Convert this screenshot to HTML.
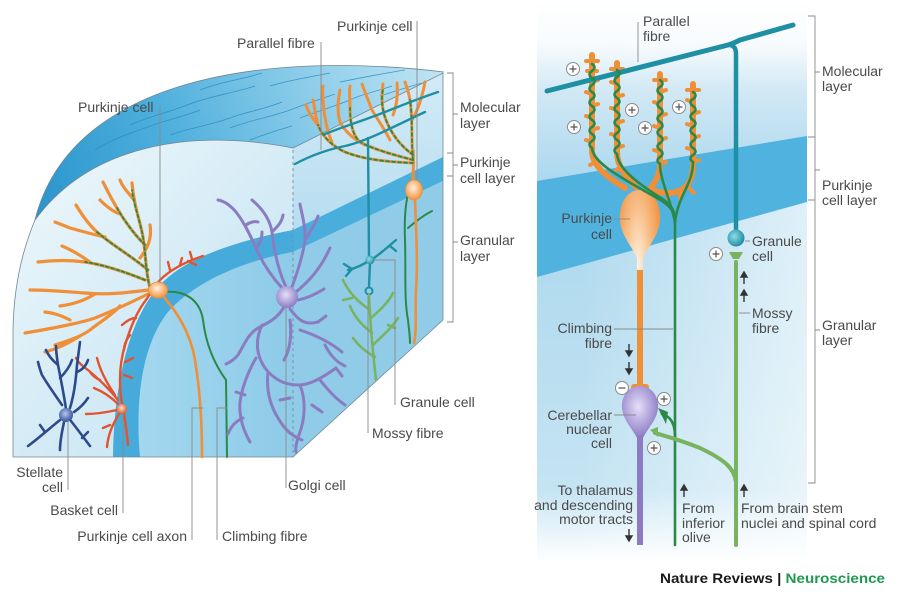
<!DOCTYPE html>
<html><head><meta charset="utf-8">
<style>
html,body{margin:0;padding:0;background:#fff;}
svg{display:block;}
text{font-family:"Liberation Sans",Arial,sans-serif;font-size:14px;fill:#4a4a4a;}
.ld{stroke:#8a8a8a;stroke-width:0.9;fill:none;}
.or{stroke:#ef8f37;fill:none;stroke-linecap:round;stroke-linejoin:round;}
.gr{stroke:#2b8948;fill:none;stroke-linecap:round;}
.pu{stroke:#8a7cc1;stroke-width:3;fill:none;stroke-linecap:round;stroke-linejoin:round;}
.nv{stroke:#2e4a8c;stroke-width:2.6;fill:none;stroke-linecap:round;stroke-linejoin:round;}
.rd{stroke:#e2542f;stroke-width:2.4;fill:none;stroke-linecap:round;stroke-linejoin:round;}
.tl{stroke:#1f8fa3;fill:none;stroke-linecap:round;stroke-linejoin:round;}
.lg{stroke:#7ab35f;fill:none;stroke-linecap:round;stroke-linejoin:round;}
.pl circle{fill:#fff;stroke:#8a8a8a;stroke-width:1;}
.pl path{stroke:#555;stroke-width:1.2;fill:none;}
</style></head><body>
<svg width="900" height="600" viewBox="0 0 900 600" xmlns="http://www.w3.org/2000/svg">
<defs>
<linearGradient id="gFront" gradientUnits="userSpaceOnUse" x1="20" y1="160" x2="290" y2="420">
<stop offset="0" stop-color="#eef7fb"/><stop offset="0.5" stop-color="#d6ecf6"/><stop offset="1" stop-color="#c4e4f2"/></linearGradient>
<linearGradient id="gTop" gradientUnits="userSpaceOnUse" x1="40" y1="220" x2="440" y2="70">
<stop offset="0" stop-color="#2a95cd"/><stop offset="0.35" stop-color="#4eafdc"/><stop offset="0.7" stop-color="#8ecdea"/><stop offset="1" stop-color="#bfe4f3"/></linearGradient>
<linearGradient id="gRightM" gradientUnits="userSpaceOnUse" x1="0" y1="80" x2="0" y2="250">
<stop offset="0" stop-color="#d2eaf6"/><stop offset="1" stop-color="#b3dcef"/></linearGradient>
<linearGradient id="gGranF" gradientUnits="userSpaceOnUse" x1="140" y1="0" x2="293" y2="0">
<stop offset="0" stop-color="#a3d7ee"/><stop offset="1" stop-color="#8dcbe8"/></linearGradient>
<linearGradient id="gRP" gradientUnits="userSpaceOnUse" x1="0" y1="0" x2="0" y2="560">
<stop offset="0" stop-color="#ffffff"/><stop offset="0.08" stop-color="#f7fbfd"/><stop offset="0.16" stop-color="#d2e9f5"/><stop offset="0.32" stop-color="#acd8ee"/><stop offset="0.55" stop-color="#b5dcef"/><stop offset="1" stop-color="#cbe7f4"/></linearGradient>
<linearGradient id="gWh" gradientUnits="userSpaceOnUse" x1="580" y1="0" x2="807" y2="0">
<stop offset="0" stop-color="#fff" stop-opacity="0"/><stop offset="1" stop-color="#fff" stop-opacity="0.6"/></linearGradient>
<linearGradient id="gBot" gradientUnits="userSpaceOnUse" x1="0" y1="490" x2="0" y2="562">
<stop offset="0" stop-color="#fff" stop-opacity="0"/><stop offset="1" stop-color="#fff" stop-opacity="1"/></linearGradient>
<radialGradient id="gOr" cx="0.45" cy="0.4" r="0.6">
<stop offset="0" stop-color="#fff3e4"/><stop offset="0.5" stop-color="#f9c18c"/><stop offset="1" stop-color="#f09444"/></radialGradient>
<radialGradient id="gPu" cx="0.45" cy="0.4" r="0.6">
<stop offset="0" stop-color="#e6e0f7"/><stop offset="0.55" stop-color="#b3a7dd"/><stop offset="1" stop-color="#8b7cc2"/></radialGradient>
<radialGradient id="gNv" cx="0.45" cy="0.4" r="0.6">
<stop offset="0" stop-color="#b8c4ec"/><stop offset="1" stop-color="#34509a"/></radialGradient>
<radialGradient id="gRd" cx="0.45" cy="0.4" r="0.6">
<stop offset="0" stop-color="#ffe0c0"/><stop offset="1" stop-color="#e5572f"/></radialGradient>
<radialGradient id="gTl" cx="0.4" cy="0.4" r="0.65">
<stop offset="0" stop-color="#8fdcea"/><stop offset="1" stop-color="#178a9e"/></radialGradient>
<clipPath id="cTop"><path d="M35,220 C90,145 190,128 293,148 L444,72 C260,50 70,80 35,220 Z"/></clipPath>
</defs>

<!-- ================= LEFT BLOCK ================= -->
<path d="M35,220 C90,145 190,128 293,148 L444,72 C260,50 70,80 35,220 Z" fill="url(#gTop)"/>
<g clip-path="url(#cTop)" stroke="#2a8cc0" stroke-width="0.8" fill="none" opacity="0.85">
<path d="M95,150 C110,140 125,135 145,128 C165,120 180,118 200,110"/>
<path d="M130,125 C150,116 170,112 190,104 C210,96 230,94 255,86"/>
<path d="M170,135 C190,128 210,125 230,118 C245,112 262,110 282,102"/>
<path d="M200,90 C220,82 240,80 262,73"/>
<path d="M230,128 C250,120 268,118 290,110 C305,104 318,100 335,94"/>
<path d="M270,86 C290,80 305,78 330,73"/>
<path d="M300,118 C315,112 330,108 350,100 C362,94 375,92 392,86"/>
<path d="M340,82 C360,78 380,74 405,70"/>
<path d="M320,135 C340,128 360,122 380,114 C395,108 410,104 428,96"/>
<path d="M380,96 C398,90 418,84 440,78"/>
<path d="M70,185 C85,172 100,165 118,158"/>
<path d="M250,140 C265,134 278,130 292,126"/>
</g>
<path d="M293,148 C190,128 90,145 35,220 Q14,270 13,330 L13,457 L293,457 Z" fill="url(#gFront)"/>
<path d="M140,457 C135,400 142,345 168,312 C195,282 240,262 293,252 L293,457 Z" fill="url(#gGranF)"/>
<path d="M113,457 C114,385 128,320 160,285 C183,260 230,242 293,230 L293,252 C240,262 195,282 168,312 C142,345 135,400 140,457 Z" fill="#46abdb"/>
<path d="M293,148 L443,73 L443,320 L293,457 Z" fill="url(#gRightM)"/>
<path d="M293,230 L443,157 L443,181 L293,252 Z" fill="#4aaedc"/>
<path d="M293,252 L443,181 L443,320 L293,457 Z" fill="#90cce8"/>
<g stroke="#6f8795" stroke-width="0.8" fill="none">
<path d="M444,72 C260,50 70,80 35,220"/>
<path d="M293,148 C190,128 90,145 35,220 Q14,270 13,330 L13,457 L293,457 L443,320 L443,73 L293,148"/>
</g>
<path d="M293,150 L293,457" stroke="#7690a0" stroke-width="0.9" stroke-dasharray="3,3"/>

<g class="or" stroke-width="3.2">
<path d="M150,288 C145,270 146,250 142,232 C139,218 134,205 132,183"/>
<path d="M134,200 C128,192 123,188 120,180"/>
<path d="M145,245 C135,235 125,222 117,208 C112,200 108,192 103,182"/>
<path d="M120,214 C114,212 108,208 100,200"/>
<path d="M148,270 C130,255 112,245 97,232 C88,224 82,215 76,205"/>
<path d="M105,237 C95,235 85,232 70,228 C65,226 60,224 55,222"/>
<path d="M145,280 C125,272 105,265 85,262 C70,260 55,260 38,262"/>
<path d="M90,262 C80,255 72,250 62,246"/>
<path d="M148,290 C125,293 105,295 85,293 C70,292 50,290 30,290"/>
<path d="M95,294 C85,300 75,304 60,306"/>
<path d="M150,293 C132,302 115,310 95,318 C80,323 60,327 25,333"/>
<path d="M120,306 C112,315 100,322 90,330 C80,337 70,340 55,345"/>
<path d="M70,320 C62,316 55,313 45,312"/>
<path d="M80,336 C70,342 60,348 45,352"/>
<path d="M140,258 C148,248 152,238 150,225"/>
</g>
<g class="gr" stroke-width="1.8" stroke-dasharray="3,2.5">
<path d="M150,288 C145,270 146,250 142,232 C139,218 134,205 132,190"/>
<path d="M145,245 C135,235 125,222 117,208"/>
<path d="M148,270 C130,255 112,245 97,232"/>
<path d="M145,280 C125,272 105,265 85,262"/>
</g>
<path class="or" stroke-width="2.6" d="M163,296 C175,310 190,330 195,360 C200,390 202,420 202,457"/>
<path class="gr" stroke-width="2" d="M165,292 C185,290 200,300 203,320 C206,345 215,365 226,380 L227,457"/>
<g class="rd">
<path d="M122,404 C118,380 120,360 126,342 C131,326 138,310 146,300 C150,294 154,287 160,280 C170,270 185,262 203,256"/>
<path d="M136,318 C130,318 126,322 122,325"/>
<path d="M130,335 C126,340 124,345 124,350"/>
<path d="M170,270 L168,262"/><path d="M180,265 L182,258"/><path d="M192,259 L190,252"/><path d="M188,261 L196,265"/>
<path d="M125,362 L133,358"/><path d="M124,375 L132,378"/>
<path d="M118,400 C110,390 100,380 88,370 C82,366 78,362 76,358"/>
<path d="M100,380 C95,378 92,375 90,372"/>
<path d="M115,395 C106,382 100,370 97,358"/>
<path d="M118,404 C112,398 104,392 94,388"/>
<path d="M117,410 C108,412 98,414 86,414"/>
<path d="M119,414 C112,425 108,435 107,447"/>
<path d="M124,414 C126,425 127,435 128,445"/>
<path d="M110,425 L103,428"/>
</g>
<circle cx="122" cy="409" r="5" fill="url(#gRd)"/>
<ellipse cx="158" cy="290" rx="9.5" ry="8" fill="url(#gOr)" stroke="#ef8f37" stroke-width="0.8"/>
<g class="nv">
<path d="M66,409 C64,395 61,380 58,365 C57,358 56,352 56,346"/>
<path d="M60,378 C66,372 70,366 72,360"/>
<path d="M58,365 C52,360 48,355 46,350"/>
<path d="M62,405 C55,395 48,385 42,375 C40,370 39,366 38,362"/>
<path d="M70,408 C74,395 76,380 77,365 C78,357 79,350 80,342"/>
<path d="M77,372 C82,370 86,366 88,360"/>
<path d="M74,412 C80,408 84,404 88,398"/>
<path d="M60,420 C50,428 40,437 28,446"/>
<path d="M45,432 L40,425"/>
<path d="M64,422 C62,432 60,440 60,450"/>
<path d="M71,421 C78,430 84,438 90,446"/>
<path d="M82,438 L88,432"/>
</g>
<circle cx="66" cy="415" r="7" fill="url(#gNv)"/>
<g class="pu">
<path d="M283,289 C270,275 262,262 256,248 C250,235 244,222 236,212 C230,205 224,201 218,200"/>
<path d="M246,225 C250,222 255,221 258,222"/>
<path d="M256,248 C260,244 262,238 262,232"/>
<path d="M286,287 C278,270 274,250 272,232 C270,220 264,210 252,200"/>
<path d="M272,232 C278,226 282,222 283,215"/>
<path d="M292,287 C298,270 303,255 305,240 C306,228 302,215 300,204"/>
<path d="M305,240 C310,232 315,225 318,216"/>
<path d="M296,292 C308,282 320,270 330,248"/>
<path d="M298,300 C308,298 316,294 324,289"/>
<path d="M284,307 C278,318 268,323 258,328 C248,334 244,345 238,355 C234,360 230,362 226,364"/>
<path d="M290,309 C297,318 303,326 318,322"/>
<path d="M300,330 C315,335 330,342 342,352"/>
<path d="M262,325 C255,340 256,355 265,368 C272,377 282,385 298,385 C310,385 322,378 336,368"/>
<path d="M256,358 C248,372 242,388 240,402 C239,415 242,428 250,442"/>
<path d="M268,372 C266,390 270,405 278,418 C285,430 292,436 302,440"/>
<path d="M300,385 C306,400 305,418 300,432 C297,440 295,447 296,452"/>
<path d="M320,380 C328,390 335,398 345,405"/>
<path d="M243,418 C236,421 231,426 228,434"/>
<path d="M325,345 C330,355 336,362 345,366"/>
<path d="M290,320 C292,335 290,350 284,360"/>
<path d="M312,405 L322,412"/><path d="M245,395 L236,392"/><path d="M280,400 L290,398"/>
<path d="M318,322 L326,316"/><path d="M336,368 L342,376"/>
</g>
<circle cx="287" cy="297" r="11" fill="url(#gPu)"/>
<path class="gr" stroke-width="2" d="M410,185 C406,200 404,215 405,240 C406,270 404,300 408,320 C409,330 410,336 410,343"/>
<path class="gr" stroke-width="2" d="M408,228 C415,222 424,215 432,211"/>
<path class="or" stroke-width="2.6" d="M415,200 C416,230 418,260 416,290 C415,310 417,330 414,343"/>
<g class="or" stroke-width="3">
<path d="M413,182 C413,170 414,160 413,150"/>
<path d="M413,160 C411,140 413,120 410,100 C409,93 407,88 405,82"/>
<path d="M412,120 C418,110 422,98 425,82"/>
<path d="M413,155 C400,145 392,135 386,120 C382,110 381,98 383,84"/>
<path d="M390,140 C385,130 378,120 372,110 C368,100 365,92 362,84"/>
<path d="M413,160 C395,155 375,150 360,142 C352,135 350,120 350,108 C350,100 349,92 350,86"/>
<path d="M365,145 C355,140 345,132 340,122 C337,112 338,100 340,90"/>
<path d="M413,163 C390,162 365,160 345,152 C330,145 322,135 318,125 C315,115 315,108 313,100"/>
<path d="M332,142 C327,132 324,115 323,100 C323,95 322,90 323,86"/>
<path d="M318,125 C312,118 308,112 306,105"/>
<path d="M397,83 C398,95 397,105 393,115"/>
</g>
<g class="gr" stroke-width="1.8" stroke-dasharray="3,3">
<path d="M413,160 C411,140 413,120 410,100"/>
<path d="M413,155 C400,145 392,135 386,120 C382,110 381,98 383,90"/>
<path d="M413,160 C395,155 375,150 360,142 C352,135 350,120 350,108"/>
<path d="M413,163 C390,162 365,160 345,152 C330,145 322,135 318,125"/>
</g>
<ellipse cx="414" cy="190" rx="8.5" ry="10" fill="url(#gOr)" stroke="#ef8f37" stroke-width="0.8"/>
<g class="tl" stroke-width="2.4">
<path d="M295,164 C310,156 325,150 345,146 C358,143 370,138 385,131 C400,124 412,118 425,112"/>
<path d="M325,134 C345,126 365,120 385,112 C405,104 420,98 438,92"/>
<path d="M369,257 L368,138"/>
<path d="M370,260 C363,265 356,268 348,270"/>
<path d="M352,269 L344,264"/><path d="M352,269 L346,276"/>
<path d="M374,258 C381,253 388,247 396,240"/>
<path d="M390,246 L396,251"/>
<path d="M370,263 L369,286"/>
</g>
<circle cx="369" cy="291" r="3.5" fill="none" stroke="#1f8fa3" stroke-width="2"/>
<circle cx="370" cy="260" r="4.5" fill="url(#gTl)"/>
<g class="lg" stroke-width="2.6">
<path d="M369,295 C370,320 372,345 376,380"/>
<path d="M370,310 C360,303 350,295 343,280"/>
<path d="M352,298 L343,300"/>
<path d="M371,318 C380,310 388,303 393,293"/>
<path d="M372,333 C362,325 355,318 350,306"/>
<path d="M373,345 C383,335 392,328 398,318"/>
<path d="M375,357 C366,352 358,345 353,338"/>
<path d="M388,325 L395,328"/>
</g>

<g class="ld">
<path d="M417,21 L417,180"/>
<path d="M321,42 L321,150"/>
<path d="M160,106 L160,283"/>
<path d="M68,420 L68,490"/>
<path d="M123,413 L123,513"/>
<path d="M203,408 L192,408 L192,540"/>
<path d="M227,408 L217,408 L217,540"/>
<path d="M286,308 L286,488"/>
<path d="M368,296 L368,433"/>
<path d="M374,260 L395,260 L395,405"/>
<path d="M447,73 L453,73 L453,322 L447,322 M447,153 L453,153 M447,176 L453,176 M453,114 L458,114 M453,165 L458,165 M453,242 L458,242"/>
</g>
<text x="337" y="31">Purkinje cell</text>
<text x="237" y="48">Parallel fibre</text>
<text x="78" y="112">Purkinje cell</text>
<text x="460" y="112">Molecular</text>
<text x="460" y="128">layer</text>
<text x="460" y="167">Purkinje</text>
<text x="460" y="183">cell layer</text>
<text x="460" y="245">Granular</text>
<text x="460" y="261">layer</text>
<text x="400" y="407">Granule cell</text>
<text x="372" y="438">Mossy fibre</text>
<text x="288" y="490">Golgi cell</text>
<text x="63" y="477" text-anchor="end">Stellate</text>
<text x="63" y="492" text-anchor="end">cell</text>
<text x="118" y="515" text-anchor="end">Basket cell</text>
<text x="187" y="541" text-anchor="end">Purkinje cell axon</text>
<text x="222" y="541">Climbing fibre</text>

<!-- ================= RIGHT PANEL ================= -->
<rect x="537" y="0" width="270" height="562" fill="url(#gRP)"/>
<path d="M537,181 L807,136 L807,202 L537,277 Z" fill="#50b3df"/>
<path d="M537,277 L807,202 L807,562 L537,562 Z" fill="url(#gWh)"/>
<rect x="537" y="488" width="270" height="74" fill="url(#gBot)"/>

<g class="or" stroke-width="6">
<path d="M592,55 L592,150 C592,165 605,176 625,188"/>
<path d="M617,63 L617,152 C617,168 628,178 636,187"/>
<path d="M660,74 L660,165 C660,175 655,182 650,189"/>
<path d="M693,84 L693,165 C693,182 685,192 670,193 C660,193 655,191 650,189"/>
</g>
<g class="or" stroke-width="4">
<path d="M586,61 l12,0 M587,71 l10,0 M592,82 l6,-2 M592,94 l-6,-2 M592,106 l6,-2 M592,118 l-6,-2 M592,130 l6,-2 M592,142 l-6,-2 M596,162 l-6,3"/>
<path d="M611,69 l12,0 M617,84 l-6,-2 M617,97 l6,-2 M617,110 l-6,-2 M617,123 l6,-2 M617,136 l-6,-2 M617,148 l6,-2 M621,167 l-5,3"/>
<path d="M654,80 l12,0 M660,92 l6,-2 M660,104 l-6,-2 M660,116 l6,-2 M660,128 l-6,-2 M660,140 l6,-2 M660,152 l-6,-2 M660,164 l6,-2"/>
<path d="M687,90 l12,0 M693,102 l-6,-2 M693,114 l6,-2 M693,126 l-6,-2 M693,138 l6,-2 M693,150 l-6,-2 M693,162 l6,-2 M680,193 l0,6 M668,193 l0,5 M689,188 l5,5"/>
</g>
<path d="M640,190 C626,190 619,205 620,220 C621,236 632,246 637,258 L637,386 L643,386 L643,258 C648,246 659,236 660,220 C661,205 654,190 640,190 Z" fill="url(#gOr)"/>
<path d="M637,270 L637,386 L643,386 L643,270 Z" fill="#ef8f37"/>
<rect x="631" y="384" width="18" height="6" rx="3" fill="#ef8f37"/>
<path class="tl" stroke-width="5" d="M547,91 L728,45 C732,44 736,42 740,40 L793,25"/>
<path class="tl" stroke-width="4.5" d="M730,45 C734,46 736,48 736,54 L736,232"/>
<circle cx="736" cy="238" r="8.5" fill="url(#gTl)"/>
<g class="gr" stroke-width="2.6">
<path d="M592,64 q5,3.5 0,7 q-5,3.5 0,7 q5,3.5 0,7 q-5,3.5 0,7 q5,3.5 0,7 q-5,3.5 0,7 q5,3.5 0,7 q-5,3.5 0,7 q5,3.5 0,7 q-5,3.5 0,7 q5,3.5 0,7 q-5,3.5 0,7 C593,165 630,182 662,201 C671,207 675,212 675,222"/>
<path d="M617,70 q5,3.5 0,7 q-5,3.5 0,7 q5,3.5 0,7 q-5,3.5 0,7 q5,3.5 0,7 q-5,3.5 0,7 q5,3.5 0,7 q-5,3.5 0,7 q5,3.5 0,7 q-5,3.5 0,7 q5,3.5 0,7 q-5,3.5 0,7 C618,170 642,186 664,200 C671,205 675,210 675,222"/>
<path d="M660,80 q5,3.5 0,7 q-5,3.5 0,7 q5,3.5 0,7 q-5,3.5 0,7 q5,3.5 0,7 q-5,3.5 0,7 q5,3.5 0,7 q-5,3.5 0,7 q5,3.5 0,7 q-5,3.5 0,7 q5,3.5 0,7 q-5,3.5 0,7 C660,180 670,198 675,222"/>
<path d="M693,92 q5,3.5 0,7 q-5,3.5 0,7 q5,3.5 0,7 q-5,3.5 0,7 q5,3.5 0,7 q-5,3.5 0,7 q5,3.5 0,7 q-5,3.5 0,7 q5,3.5 0,7 q-5,3.5 0,7 C693,185 678,195 675,222"/>
<path d="M675,220 L675,545"/>
<path d="M675,436 C675,422 669,416 662,414"/>
</g>
<path d="M658,408 L668,412 L666,424 Z" fill="#2b8948"/>
<path class="lg" stroke-width="4" d="M736,262 L736,545"/>
<path class="lg" stroke-width="4" d="M736,482 C734,468 725,460 700,448 C680,440 665,436 655,433"/>
<path d="M729,252 L743,252 L739,259 L733,259 Z" fill="#7ab35f"/>
<path d="M650,430 L658,427 L658,437 Z" fill="#7ab35f"/>
<path d="M640,386 C628,386 621,397 622,408 C623,420 632,428 637,438 L643,438 C648,428 657,420 658,408 C659,397 652,386 640,386 Z" fill="url(#gPu)"/>
<rect x="637" y="436" width="6" height="109" fill="#8b7bc3"/>

<g class="pl">
<circle cx="573" cy="69" r="6.5"/><path d="M569.5,69 h7 M573,65.5 v7"/>
<circle cx="574" cy="127" r="6.5"/><path d="M570.5,127 h7 M574,123.5 v7"/>
<circle cx="632" cy="110" r="6.5"/><path d="M628.5,110 h7 M632,106.5 v7"/>
<circle cx="645" cy="128" r="6.5"/><path d="M641.5,128 h7 M645,124.5 v7"/>
<circle cx="679" cy="107" r="6.5"/><path d="M675.5,107 h7 M679,103.5 v7"/>
<circle cx="716" cy="254" r="6.5"/><path d="M712.5,254 h7 M716,250.5 v7"/>
<circle cx="664" cy="399" r="6.5"/><path d="M660.5,399 h7 M664,395.5 v7"/>
<circle cx="654" cy="448" r="6.5"/><path d="M650.5,448 h7 M654,444.5 v7"/>
<circle cx="622" cy="388" r="6.5"/><path d="M618.5,388 h7"/>
</g>
<g fill="#333" stroke="#333" stroke-width="1.4">
<path d="M629,344 L629,352"/><path d="M626,351 L632,351 L629,356 Z"/>
<path d="M629,362 L629,370"/><path d="M626,369 L632,369 L629,374 Z"/>
<path d="M629,529 L629,537"/><path d="M626,536 L632,536 L629,541 Z"/>
<path d="M684,489 L684,497"/><path d="M681,490 L687,490 L684,485 Z"/>
<path d="M744,489 L744,497"/><path d="M741,490 L747,490 L744,485 Z"/>
<path d="M744,276 L744,284"/><path d="M741,277 L747,277 L744,272 Z"/>
<path d="M744,294 L744,302"/><path d="M741,295 L747,295 L744,290 Z"/>
</g>
<g class="ld">
<path d="M638,22 L638,62"/>
<path d="M614,219 L630,219"/>
<path d="M745,241 L750,241"/>
<path d="M739,313 L750,313"/>
<path d="M614,329 L673,329"/>
<path d="M614,415 L636,415"/>
<path d="M808,16 L815,16 L815,483 L808,483 M808,137 L815,137 M808,200 L815,200 M815,72 L820,72 M815,170 L820,170 M815,330 L820,330"/>
</g>
<text x="643" y="26">Parallel</text>
<text x="643" y="41">fibre</text>
<text x="822" y="76">Molecular</text>
<text x="822" y="91">layer</text>
<text x="822" y="190">Purkinje</text>
<text x="822" y="205">cell layer</text>
<text x="822" y="330">Granular</text>
<text x="822" y="345">layer</text>
<text x="752" y="246">Granule</text>
<text x="752" y="261">cell</text>
<text x="752" y="318">Mossy</text>
<text x="752" y="333">fibre</text>
<text x="612" y="223" text-anchor="end">Purkinje</text>
<text x="612" y="239" text-anchor="end">cell</text>
<text x="612" y="333" text-anchor="end">Climbing</text>
<text x="612" y="348" text-anchor="end">fibre</text>
<text x="612" y="420" text-anchor="end">Cerebellar</text>
<text x="612" y="434" text-anchor="end">nuclear</text>
<text x="612" y="448" text-anchor="end">cell</text>
<text x="633" y="495" text-anchor="end">To thalamus</text>
<text x="633" y="510" text-anchor="end">and descending</text>
<text x="633" y="524" text-anchor="end">motor tracts</text>
<text x="682" y="513">From</text>
<text x="682" y="528">inferior</text>
<text x="682" y="542">olive</text>
<text x="741" y="513">From brain stem</text>
<text x="741" y="528">nuclei and spinal cord</text>
<text x="660" y="583" textLength="225" lengthAdjust="spacingAndGlyphs" style="font-weight:bold;fill:#1a1a1a;font-size:14px">Nature Reviews | <tspan style="fill:#1e9a50">Neuroscience</tspan></text>
</svg>
</body></html>
